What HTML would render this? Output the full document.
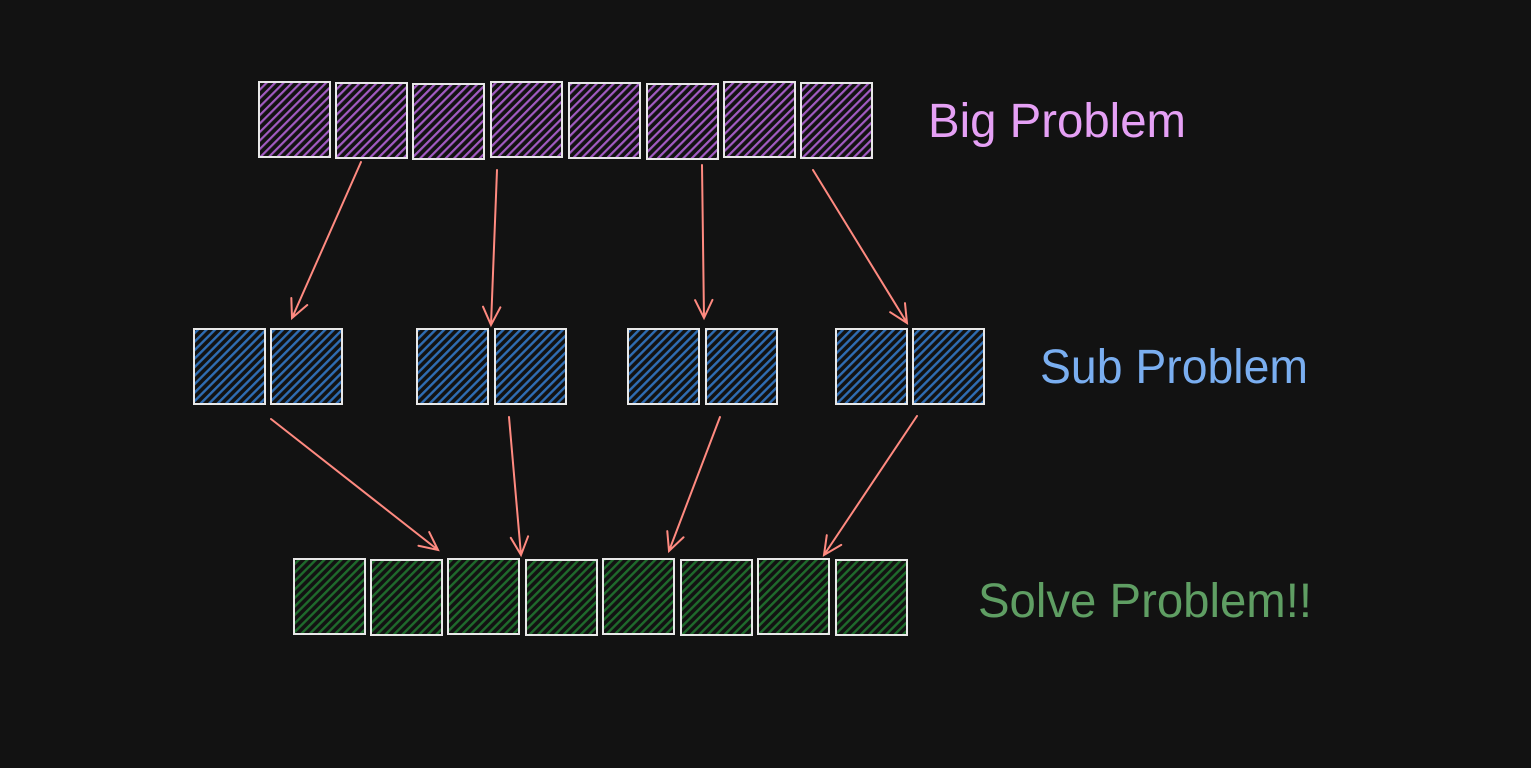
<!DOCTYPE html>
<html><head><meta charset="utf-8"><style>
html,body{margin:0;padding:0;background:#121212;}
svg{display:block;}
text{font-family:"Liberation Sans",sans-serif;font-size:48px;}
</style></head><body>
<svg id="d" width="1531" height="768" viewBox="0 0 1531 768">
<defs>
<pattern id="hp" width="6" height="6" patternUnits="userSpaceOnUse" patternTransform="rotate(-45)"><rect width="6" height="6" fill="#121212"/><rect width="6" height="2.2" fill="#a25bc2"/></pattern>
<pattern id="hb" width="6" height="6" patternUnits="userSpaceOnUse" patternTransform="rotate(-45)"><rect width="6" height="6" fill="#121212"/><rect width="6" height="2.4" fill="#2f6db3"/></pattern>
<pattern id="hg" width="6" height="6" patternUnits="userSpaceOnUse" patternTransform="rotate(-45)"><rect width="6" height="6" fill="#121212"/><rect width="6" height="2.4" fill="#1f6a2c"/></pattern>
</defs>
<rect width="1531" height="768" fill="#121212"/>
<g id="g"></g>
<text x="928" y="137" fill="#e5a0f5" textLength="258" lengthAdjust="spacingAndGlyphs">Big Problem</text>
<text x="1040" y="383" fill="#7aaef0" textLength="268" lengthAdjust="spacingAndGlyphs">Sub Problem</text>
<text x="978" y="617" fill="#5f9e63" textLength="334" lengthAdjust="spacingAndGlyphs">Solve Problem!!</text>
</svg>
<script>
const topX=[259,336,413,491,569,647,724,801];
const subX=[194,271,417,495,628,706,836,913];
const botX=[294,371,448,526,603,681,758,836];
const arrows=[[361,162,292,318],[497,170,491,325],[702,165,704,318],[813,170,907,323],[271,419,438,550],[509,417,521,555],[720,417,669,551],[917,416,824,555]];
const g=document.getElementById('g');
const NS='http://www.w3.org/2000/svg';
function box(x,y,fill,name){
 const r=document.createElementNS(NS,'rect');
 r.setAttribute('x',x);r.setAttribute('y',y);r.setAttribute('width',71);r.setAttribute('height',75);
 r.setAttribute('fill',fill);r.setAttribute('stroke','#e8e8e8');r.setAttribute('stroke-width',2);
 
 
 g.appendChild(r);
}
topX.forEach((x,i)=>box(x,82+(i%3),'url(#hp)','big-problem-box'));
subX.forEach(x=>box(x,329,'url(#hb)','sub-problem-box'));
botX.forEach((x,i)=>box(x,559+(i%2),'url(#hg)','solved-box'));
arrows.forEach(a=>{
 const [x1,y1,x2,y2]=a;
 const ang=Math.atan2(y2-y1,x2-x1),L=20,s=0.45;
 const p=document.createElementNS(NS,'path');
 const h1=[x2-L*Math.cos(ang-s),y2-L*Math.sin(ang-s)],h2=[x2-L*Math.cos(ang+s),y2-L*Math.sin(ang+s)];
 p.setAttribute('d',`M${x1},${y1}L${x2},${y2}M${h1[0]},${h1[1]}L${x2},${y2}L${h2[0]},${h2[1]}`);
 p.setAttribute('stroke','#ff8a80');p.setAttribute('stroke-width',2);p.setAttribute('fill','none');p.setAttribute('stroke-linecap','round');
 
 
 g.appendChild(p);
});
</script>
</body></html>
